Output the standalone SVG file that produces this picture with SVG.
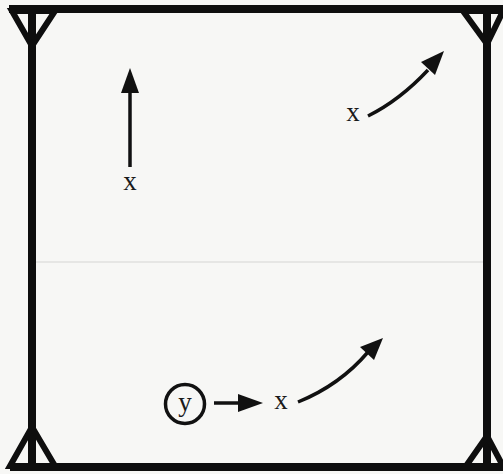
<svg xmlns="http://www.w3.org/2000/svg" width="503" height="474" viewBox="0 0 503 474">
<defs>
<style>
.frame{fill:none;stroke:#0e0e0e;stroke-width:8;stroke-linejoin:miter}
.tri{fill:none;stroke:#0e0e0e;stroke-width:6;stroke-linejoin:miter}
.arr{fill:none;stroke:#111;stroke-width:3.5;stroke-linecap:butt}
.lbl{font-family:"Liberation Serif","DejaVu Serif",serif;font-size:27px;fill:#1a1a1a;text-anchor:middle}
.head{fill:#111}
</style>
</defs>
<rect x="0" y="0" width="503" height="474" fill="#f7f7f5"/>
<line x1="34" y1="262" x2="487" y2="262" stroke="#e6e6e4" stroke-width="2"/>
<g id="frame">
<path class="frame" d="M9,9 H503 M32,9 V467 M487,9 V467 M10,467 H503"/>
<path class="tri" d="M12,11 L55,11 L32,46 Z"/>
<path class="tri" d="M463,11 L503,11 L487,44 Z"/>
<path class="tri" d="M32,427 L10,466 L55,466 Z"/>
<path class="tri" d="M487,436 L466,466 L503,466 Z"/>
</g>
<g id="connectors">
<line class="arr" x1="130" y1="167" x2="130" y2="90"/>
<polygon class="head" points="130,68 121,93 139,93"/>
<path class="arr" d="M368,116 Q400,100 428,70"/>
<polygon class="head" points="444,51 421,62 435,75"/>
<line class="arr" x1="214" y1="403" x2="240" y2="403"/>
<polygon class="head" points="263,403 238,394 238,412"/>
<path class="arr" d="M298,402 Q340,385 368,352"/>
<polygon class="head" points="383,338 360,347 374,360"/>
</g>
<g id="node-x1"><text class="lbl" x="130" y="190">x</text></g>
<g id="node-x2"><text class="lbl" x="353" y="121">x</text></g>
<g id="node-y"><circle cx="185" cy="404" r="19.5" fill="none" stroke="#111" stroke-width="3.5"/><text class="lbl" x="185" y="411">y</text></g>
<g id="node-x3"><text class="lbl" x="281" y="409">x</text></g>
</svg>
